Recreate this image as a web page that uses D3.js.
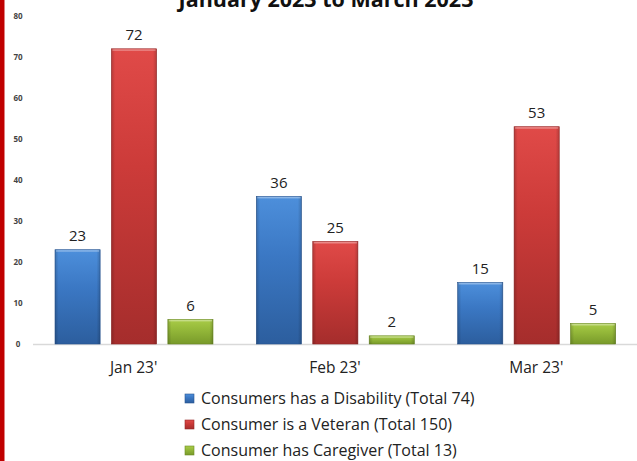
<!DOCTYPE html>
<html>
<head>
<meta charset="utf-8">
<script src="https://cdn.jsdelivr.net/npm/d3@7"></script>
<style>
  body { margin: 0; background: #fff; }
  svg { display: block; }
</style>
</head>
<body>
<div id="chart"></div>
<script>
var months = ["Jan 23'", "Feb 23'", "Mar 23'"];
var seriesNames = ["Consumers has a Disability (Total 74)", "Consumer is a Veteran (Total 150)", "Consumer has Caregiver (Total 13)"];
var disability = [23, 36, 15];
var veteran = [72, 25, 53];
var caregiver = [6, 2, 5];
var yTicks = [0, 10, 20, 30, 40, 50, 60, 70, 80];

var colors = [
    { top: "#4d8fdb", mid: "#3b78c4", bot: "#2c5e9e", edge: "#2a5590" },
    { top: "#e04a48", mid: "#cc3b39", bot: "#a52d2c", edge: "#952726" },
    { top: "#a9cc48", mid: "#95b93a", bot: "#789a2a", edge: "#6b8a24" }
];

function draw_Chart() {
    "use strict";
    var width = 637, height = 461;
    var svg = d3.select("#chart")
        .append("svg")
        .attr("width", width)
        .attr("height", height);

    var allSeries = [disability, veteran, caregiver];

    var defs = svg.append("defs");
    colors.forEach(function (c, i) {
        var g = defs.append("linearGradient")
            .attr("id", "grad" + i)
            .attr("x1", 0).attr("y1", 0).attr("x2", 0).attr("y2", 1);
        g.append("stop").attr("offset", "0%").attr("stop-color", c.top);
        g.append("stop").attr("offset", "40%").attr("stop-color", c.mid);
        g.append("stop").attr("offset", "100%").attr("stop-color", c.bot);
        var h = defs.append("linearGradient")
            .attr("id", "side" + i)
            .attr("x1", 0).attr("y1", 0).attr("x2", 1).attr("y2", 0);
        h.append("stop").attr("offset", "0%").attr("stop-color", "#000").attr("stop-opacity", 0.18);
        h.append("stop").attr("offset", "8%").attr("stop-color", "#000").attr("stop-opacity", 0);
        h.append("stop").attr("offset", "92%").attr("stop-color", "#000").attr("stop-opacity", 0);
        h.append("stop").attr("offset", "100%").attr("stop-color", "#000").attr("stop-opacity", 0.18);
    });

    // red left border
    svg.append("rect").attr("x", 0).attr("y", 0).attr("width", 4).attr("height", height).attr("fill", "#c00000");
    svg.append("rect").attr("x", 4).attr("y", 0).attr("width", 1).attr("height", height).attr("fill", "#e08080");

    // title (cut off at the top, as in the original)
    svg.append("text")
        .attr("x", 326)
        .attr("y", 7)
        .attr("text-anchor", "middle")
        .style("font-family", "'Open Sans', sans-serif")
        .style("font-weight", "bold")
        .style("font-size", "21.5px")
        .style("fill", "#111")
        .text("January 2023 to March 2023");

    var x0 = d3.scaleBand().domain(months).range([33, 637]);
    var x1 = d3.scaleBand().domain([0, 1, 2]).range([22, 180]).paddingInner(0.2);
    var y = d3.scaleLinear().domain([0, 80]).range([344, 16]);

    // y tick labels
    svg.selectAll(".ytick")
        .data(yTicks)
        .enter()
        .append("text")
        .attr("x", 18)
        .attr("y", function (d) { return y(d) + 3; })
        .attr("text-anchor", "middle")
        .style("font-family", "'Open Sans', sans-serif")
        .style("font-size", "8px")
        .style("font-weight", "bold")
        .style("fill", "#444")
        .text(function (d) { return d; });

    // baseline
    svg.append("line")
        .attr("x1", 33).attr("x2", 637)
        .attr("y1", y(0) + 0.5).attr("y2", y(0) + 0.5)
        .style("stroke", "#d9d9d9")
        .style("stroke-width", 1.5);

    var groups = svg.selectAll(".grp")
        .data(months)
        .enter()
        .append("g")
        .attr("transform", function (d) { return "translate(" + x0(d) + ",0)"; });

    allSeries.forEach(function (vals, si) {
        groups.append("rect")
            .attr("x", x1(si))
            .attr("y", function (d, i) { return y(vals[i]); })
            .attr("width", x1.bandwidth())
            .attr("height", function (d, i) { return y(0) - y(vals[i]); })
            .attr("fill", "url(#grad" + si + ")")
            .style("stroke", colors[si].edge)
            .style("stroke-width", 0.6);
        groups.append("rect")
            .attr("x", x1(si))
            .attr("y", function (d, i) { return y(vals[i]); })
            .attr("width", x1.bandwidth())
            .attr("height", function (d, i) { return y(0) - y(vals[i]); })
            .attr("fill", "url(#side" + si + ")");
        groups.append("rect")
            .attr("x", x1(si) + 1)
            .attr("y", function (d, i) { return y(vals[i]) + 0.5; })
            .attr("width", x1.bandwidth() - 2)
            .attr("height", 1.5)
            .attr("fill", "#fff")
            .attr("opacity", 0.35);
        groups.append("text")
            .attr("x", x1(si) + x1.bandwidth() / 2)
            .attr("y", function (d, i) { return y(vals[i]) - 8.5; })
            .attr("text-anchor", "middle")
            .style("font-family", "'Open Sans', sans-serif")
            .style("font-size", "15px")
            .style("fill", "#222")
            .text(function (d, i) { return vals[i]; });
    });

    // category labels
    svg.selectAll(".xlab")
        .data(months)
        .enter()
        .append("text")
        .attr("x", function (d) { return x0(d) + x0.bandwidth() / 2; })
        .attr("y", 373)
        .attr("text-anchor", "middle")
        .style("font-family", "'Open Sans', sans-serif")
        .style("font-size", "15.5px")
        .style("fill", "#222")
        .text(function (d) { return d; });

    // legend
    var legend = svg.selectAll(".leg")
        .data(seriesNames)
        .enter()
        .append("g")
        .attr("transform", function (d, i) { return "translate(185," + (399 + i * 26) + ")"; });
    legend.append("rect")
        .attr("y", -5)
        .attr("width", 9).attr("height", 9)
        .attr("fill", function (d, i) { return "url(#grad" + i + ")"; })
        .style("stroke", function (d, i) { return colors[i].edge; })
        .style("stroke-width", 0.6);
    legend.append("text")
        .attr("x", 16)
        .attr("y", 5)
        .style("font-family", "'Open Sans', sans-serif")
        .style("font-size", "16px")
        .style("fill", "#222")
        .text(function (d) { return d; });
}

draw_Chart();
</script>
</body>
</html>
